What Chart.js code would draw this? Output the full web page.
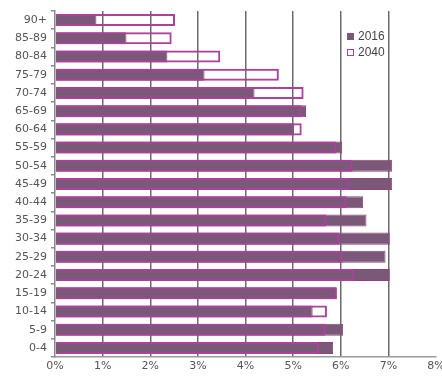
<!DOCTYPE html>
<html>
<head>
<meta charset="utf-8">
<script src="https://cdn.jsdelivr.net/npm/chart.js@4"></script>
<style>
  body { margin: 0; background: #fff; }
  #wrap { position: relative; width: 442px; height: 377px; }
  #legend { position: absolute; left: 347px; top: 28px; font: 12px "Liberation Sans", sans-serif; color: #444; }
  #legend div { height: 16px; line-height: 16px; display: flex; align-items: center; }
  #legend span.box { display: inline-block; width: 5px; height: 5px; margin-right: 4px; }
</style>
</head>
<body>
<div id="wrap">
  <canvas id="popChart" width="442" height="377"></canvas>
  <div id="legend">
    <div><span class="box" style="background:#7a5877;border:1px solid #7a5877"></span>2016</div>
    <div><span class="box" style="background:#fff;border:1px solid #a8409a"></span>2040</div>
  </div>
</div>
<script>
// Age groups, top to bottom
const ageGroups = ['90+', '85-89', '80-84', '75-79', '70-74', '65-69', '60-64', '55-59', '50-54',
  '45-49', '40-44', '35-39', '30-34', '25-29', '20-24', '15-19', '10-14', '5-9', '0-4'];

// Share of population (%)
const share2016 = [0.87, 1.5, 2.36, 3.14, 4.19, 5.27, 5.02, 6.03, 7.08,
  7.08, 6.47, 6.54, 7.03, 6.94, 7.03, 5.9, 5.41, 6.05, 5.84];
const share2040 = [2.52, 2.45, 3.47, 4.70, 5.22, 5.18, 5.18, 5.91, 6.25,
  6.17, 6.12, 5.70, 5.97, 6.04, 6.28, 5.92, 5.71, 5.67, 5.55];

const xTicks = [0, 1, 2, 3, 4, 5, 6, 7, 8];

const tickFont = { family: 'DejaVu Sans', size: 11 };

const ctx = document.getElementById('popChart').getContext('2d');

new Chart(ctx, {
  type: 'bar',
  data: {
    labels: ageGroups,
    datasets: [
      {
        // drawn last, so its outline sits over the 2016 bar
        label: '2040',
        data: share2040,
        backgroundColor: 'rgba(255,255,255,0)',
        borderColor: '#ad3f9d',
        borderWidth: 2,
        grouped: false,
        barPercentage: 0.66,
        categoryPercentage: 1
      },
      {
        label: '2016',
        data: share2016,
        backgroundColor: '#7a5877',
        borderColor: '#93407f',
        borderWidth: 1,
        grouped: false,
        barPercentage: 0.66,
        categoryPercentage: 1
      }
    ]
  },
  options: {
    indexAxis: 'y',
    responsive: false,
    animation: false,
    layout: { padding: { top: 11, right: 6, left: 0, bottom: 0 } },
    plugins: {
      legend: { display: false },
      tooltip: { enabled: false }
    },
    scales: {
      x: {
        z: 1,
        min: 0,
        max: 8,
        afterBuildTicks: scale => { scale.ticks = xTicks.map(v => ({ value: v })); },
        afterFit: scale => { scale.height = 20; scale.paddingLeft = 0; scale.paddingRight = 0; },
        ticks: {
          callback: v => v + '%',
          color: '#555',
          font: tickFont,
          padding: 3,
          maxRotation: 0
        },
        grid: {
          color: c => (c.tick && (c.tick.value === 0 || c.tick.value === 8)) ? 'rgba(0,0,0,0)' : '#6a6a6a',
          lineWidth: 1.5,
          drawTicks: false
        },
        border: { color: '#9a9a9a', width: 1.5 }
      },
      y: {
        afterFit: scale => { scale.width = 55; },
        ticks: {
          color: '#555',
          font: tickFont,
          padding: 4
        },
        grid: {
          drawOnChartArea: false,
          offset: true,
          tickLength: 4,
          color: '#8a8a8a',
          lineWidth: 1.5
        },
        border: { color: '#8a8a8a', width: 1.5 }
      }
    }
  }
});
</script>
</body>
</html>
